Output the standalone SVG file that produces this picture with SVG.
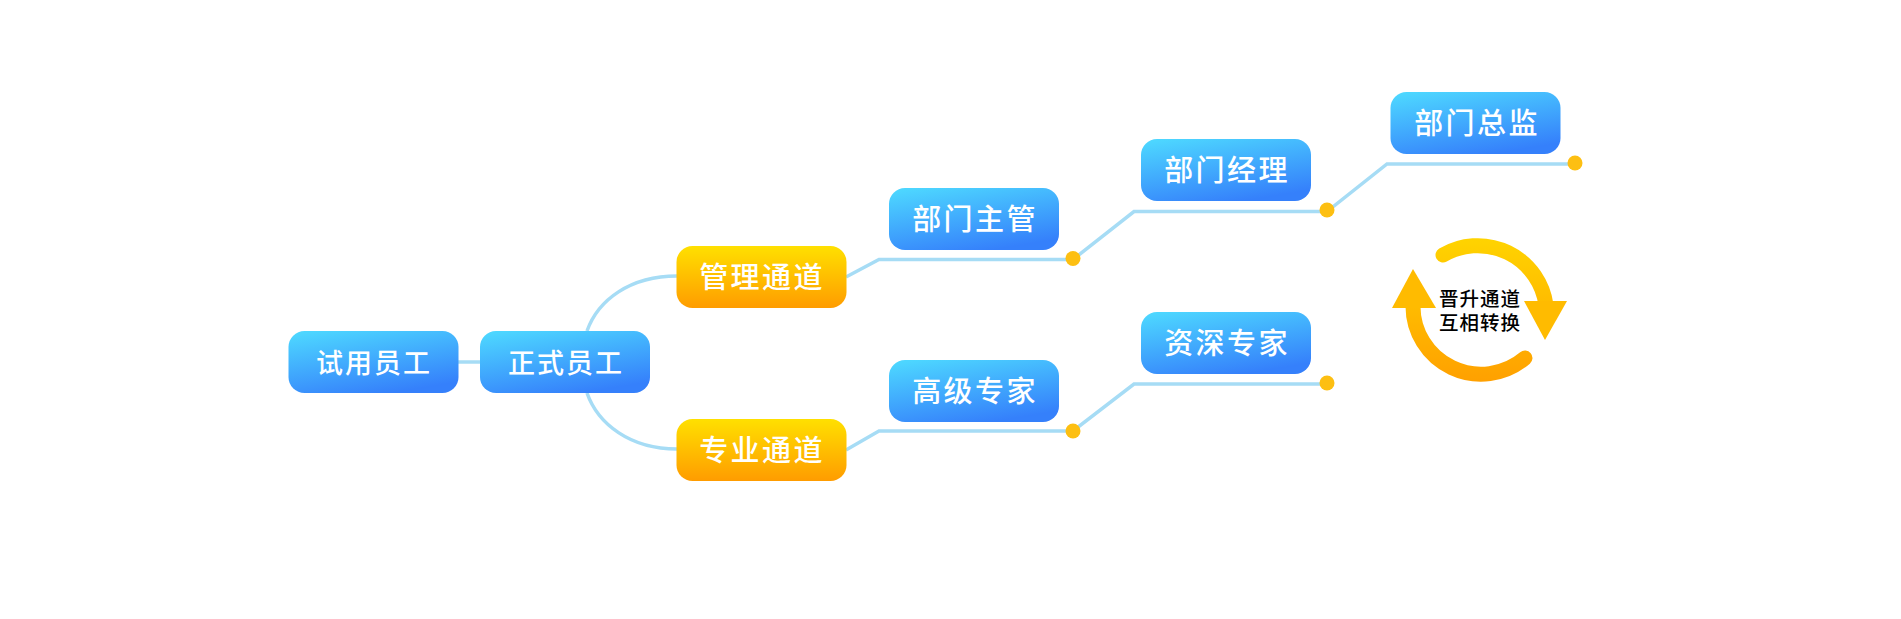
<svg xmlns="http://www.w3.org/2000/svg" width="1901" height="619" viewBox="0 0 1901 619">
<style>
.n{font-family:"Noto Sans CJK SC","Noto Sans",sans-serif;font-size:29px;font-weight:500;fill:#fff;text-anchor:middle;letter-spacing:2.4px}
.m{font-size:27px;letter-spacing:2px}
.s{font-family:"Noto Sans CJK SC","Noto Sans",sans-serif;font-size:19.500px;font-weight:500;fill:#000;text-anchor:middle;letter-spacing:1px}
.l{fill:none;stroke:#a6dcf5;stroke-width:3.5}
.d{fill:#fdbf12}
.b{fill:url(#blue)}
.o{fill:url(#orange)}
.a{fill:none;stroke-width:15;stroke-linecap:round}
</style>
<defs>
<linearGradient id="blue" x1="0.15" y1="0" x2="0.6" y2="1"><stop offset="0" stop-color="#4dd6ff"/><stop offset="1" stop-color="#3580fb"/></linearGradient>
<linearGradient id="orange" x1="0" y1="0" x2="0" y2="1"><stop offset="0" stop-color="#ffe000"/><stop offset="1" stop-color="#ff9c00"/></linearGradient>
<linearGradient id="cyc" gradientUnits="userSpaceOnUse" x1="0" y1="237" x2="0" y2="385"><stop offset="0" stop-color="#ffd400"/><stop offset="1" stop-color="#ff9f00"/></linearGradient>
</defs>
<rect width="1901" height="619" fill="#fff"/>
<g id="connectors">
<path class="l" d="M458 362H480"/>
<path class="l" d="M587 331C598 300 630 276 677 276"/>
<path class="l" d="M587 393C598 424 630 449 677 449"/>
<path class="l" d="M846 277L879 259.500H1073L1134 211.500H1327L1387 164H1575"/>
<path class="l" d="M846 450L879 431H1073L1134 384H1327"/>
<circle class="d" cx="1073" cy="258.500" r="7.500"/>
<circle class="d" cx="1327" cy="210" r="7.500"/>
<circle class="d" cx="1575" cy="163" r="7.500"/>
<circle class="d" cx="1073" cy="431" r="7.500"/>
<circle class="d" cx="1327" cy="383" r="7.500"/>
</g>
<g id="n1"><rect class="b" x="288.500" y="331" width="170" height="62" rx="16"/><text class="n m" x="374" y="373">试用员工</text></g>
<g id="n2"><rect class="b" x="480" y="331" width="170" height="62" rx="16"/><text class="n m" x="566" y="373">正式员工</text></g>
<g id="n3"><rect class="o" x="676.500" y="246" width="170" height="62" rx="16"/><text class="n" x="762" y="288">管理通道</text></g>
<g id="n4"><rect class="o" x="676.500" y="419" width="170" height="62" rx="16"/><text class="n" x="762" y="461">专业通道</text></g>
<g id="n5"><rect class="b" x="889" y="188" width="170" height="62" rx="16"/><text class="n" x="975" y="230">部门主管</text></g>
<g id="n6"><rect class="b" x="889" y="360" width="170" height="62" rx="16"/><text class="n" x="975" y="402">高级专家</text></g>
<g id="n7"><rect class="b" x="1141" y="139" width="170" height="62" rx="16"/><text class="n" x="1227" y="181">部门经理</text></g>
<g id="n8"><rect class="b" x="1141" y="312" width="170" height="62" rx="16"/><text class="n" x="1227" y="354">资深专家</text></g>
<g id="n9"><rect class="b" x="1390.500" y="92" width="170" height="62" rx="16"/><text class="n" x="1477" y="134">部门总监</text></g>
<g id="cycle">
<path class="a" stroke="url(#cyc)" d="M1443 255A69 69 0 0 1 1546 305"/>
<path class="a" stroke="url(#cyc)" d="M1413 305A68 68 0 0 0 1525 358"/>
<polygon fill="#ffbb00" points="1524,301 1567,301 1545,340"/>
<polygon fill="#ffbb00" points="1413,269 1436,308 1392,308"/>
<text class="s" x="1480" y="306">晋升通道</text>
<text class="s" x="1480" y="330">互相转换</text>
</g>
</svg>
